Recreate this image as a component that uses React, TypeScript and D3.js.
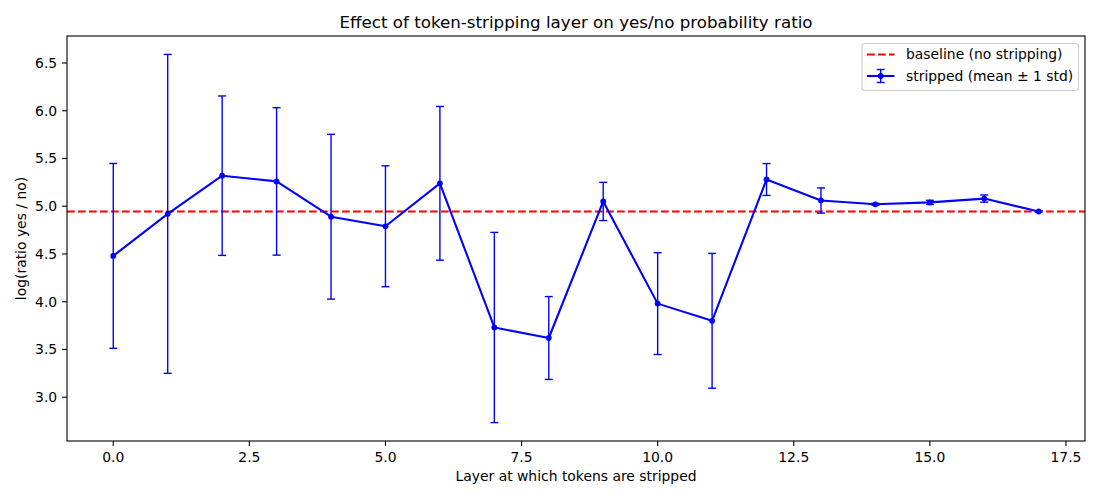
import React from 'react';
import * as d3 from 'd3';

// layer index -> mean log(yes/no) ratio and its std across prompts
const layers = [0, 1, 2, 3, 4, 5, 6, 7, 8, 9, 10, 11, 12, 13, 14, 15, 16, 17];
const means = [4.48, 4.92, 5.32, 5.26, 4.89, 4.79, 5.24, 3.73, 3.62, 5.05, 3.98, 3.80, 5.28, 5.06, 5.02, 5.04, 5.08, 4.945];
const stds = [0.968, 1.67, 0.835, 0.772, 0.863, 0.633, 0.805, 0.996, 0.434, 0.2, 0.533, 0.706, 0.167, 0.132, 0.01, 0.022, 0.038, 0.006];
const baseline = 4.945;

const xTicks = [0, 2.5, 5, 7.5, 10, 12.5, 15, 17.5];
const yTicks = [3.0, 3.5, 4.0, 4.5, 5.0, 5.5, 6.0, 6.5];

const titleText = 'Effect of token-stripping layer on yes/no probability ratio';
const xLabel = 'Layer at which tokens are stripped';
const yLabel = 'log(ratio yes / no)';
const legendLabels = ['baseline (no stripping)', 'stripped (mean \u00b1 1 std)'];

const W = 1100;
const H = 500;
const margin = { left: 67, right: 15, top: 36, bottom: 59 };
const font = 'DejaVu Sans, sans-serif';
const BLUE = '#0000ff';
const RED = '#ff0000';

export default function App() {
  const points = layers.map((l, i) => ({ x: l, m: means[i], s: stds[i] }));

  // matplotlib-style 5% padding around the data extent
  const xMin = d3.min(layers)!;
  const xMax = d3.max(layers)!;
  const xPad = (xMax - xMin) * 0.05;
  const yLo = d3.min(points, (d) => d.m - d.s)!;
  const yHi = d3.max(points, (d) => d.m + d.s)!;
  const yPad = (yHi - yLo) * 0.05;

  const xScale = d3
    .scaleLinear()
    .domain([xMin - xPad, xMax + xPad])
    .range([margin.left, W - margin.right]);
  const yScale = d3
    .scaleLinear()
    .domain([yLo - yPad, yHi + yPad])
    .range([H - margin.bottom, margin.top]);

  const line = d3
    .line<{ x: number; m: number }>()
    .x((d) => xScale(d.x))
    .y((d) => yScale(d.m));

  const x0 = margin.left;
  const x1 = W - margin.right;
  const y0 = margin.top;
  const y1 = H - margin.bottom;
  const cap = 4;

  // legend box
  const lgX = 862;
  const lgY = 43.5;
  const lgW = 216.5;
  const lgH = 47;
  const row1 = 54.5;
  const row2 = 76;

  return (
    <svg
      width={W}
      height={H}
      style={{ position: 'absolute', left: 0, top: 0, background: '#fff' }}
      fontFamily={font}
    >
      <rect x={0} y={0} width={W} height={H} fill="#fff" />

      {/* baseline */}
      <line
        x1={x0}
        x2={x1}
        y1={yScale(baseline)}
        y2={yScale(baseline)}
        stroke={RED}
        strokeWidth={2.08}
        strokeDasharray="7.7,3.3"
      />

      {/* error bars */}
      <g stroke={BLUE} strokeWidth={1.39}>
        {points.map((d, i) => {
          const cx = xScale(d.x);
          const top = yScale(d.m + d.s);
          const bot = yScale(d.m - d.s);
          return (
            <g key={i}>
              <line x1={cx} x2={cx} y1={top} y2={bot} />
              <line x1={cx - cap} x2={cx + cap} y1={top} y2={top} />
              <line x1={cx - cap} x2={cx + cap} y1={bot} y2={bot} />
            </g>
          );
        })}
      </g>

      <path d={line(points) ?? ''} fill="none" stroke={BLUE} strokeWidth={2.08} strokeLinejoin="round" />
      {points.map((d, i) => (
        <circle key={i} cx={xScale(d.x)} cy={yScale(d.m)} r={2.9} fill={BLUE} />
      ))}

      {/* frame */}
      <rect x={x0} y={y0} width={x1 - x0} height={y1 - y0} fill="none" stroke="#000" strokeWidth={1.1} />

      {/* x axis */}
      {xTicks.map((t) => (
        <g key={t} transform={`translate(${xScale(t)},${y1})`}>
          <line y1={0} y2={4.9} stroke="#000" strokeWidth={1.1} />
          <text y={21} textAnchor="middle" fontSize={13.9} fill="#000">
            {t.toFixed(1)}
          </text>
        </g>
      ))}

      {/* y axis */}
      {yTicks.map((t) => (
        <g key={t} transform={`translate(${x0},${yScale(t)})`}>
          <line x1={0} x2={-4.9} stroke="#000" strokeWidth={1.1} />
          <text x={-9.8} dy="0.35em" textAnchor="end" fontSize={13.9} fill="#000">
            {t.toFixed(1)}
          </text>
        </g>
      ))}

      <text x={(x0 + x1) / 2} y={28} textAnchor="middle" fontSize={16.7} fill="#000">
        {titleText}
      </text>
      <text x={(x0 + x1) / 2} y={481} textAnchor="middle" fontSize={13.9} fill="#000">
        {xLabel}
      </text>
      <text
        transform={`translate(26,${(y0 + y1) / 2}) rotate(-90)`}
        textAnchor="middle"
        fontSize={13.9}
        fill="#000"
      >
        {yLabel}
      </text>

      {/* legend */}
      <rect x={lgX} y={lgY} width={lgW} height={lgH} rx={3} fill="#fff" fillOpacity={0.8} stroke="#cccccc" strokeWidth={1.1} />
      <line x1={867} x2={894.5} y1={row1} y2={row1} stroke={RED} strokeWidth={2.08} strokeDasharray="7.7,3.3" />
      <text x={906} y={row1} dy="0.35em" fontSize={13.9} fill="#000">
        {legendLabels[0]}
      </text>
      <g stroke={BLUE}>
        <line x1={867} x2={894.5} y1={row2} y2={row2} strokeWidth={2.08} />
        <line x1={880.7} x2={880.7} y1={row2 - 6.5} y2={row2 + 6.5} strokeWidth={1.39} />
        <line x1={880.7 - cap} x2={880.7 + cap} y1={row2 - 6.5} y2={row2 - 6.5} strokeWidth={1.39} />
        <line x1={880.7 - cap} x2={880.7 + cap} y1={row2 + 6.5} y2={row2 + 6.5} strokeWidth={1.39} />
      </g>
      <circle cx={880.7} cy={row2} r={2.9} fill={BLUE} />
      <text x={906} y={row2} dy="0.35em" fontSize={13.9} fill="#000">
        {legendLabels[1]}
      </text>
    </svg>
  );
}
